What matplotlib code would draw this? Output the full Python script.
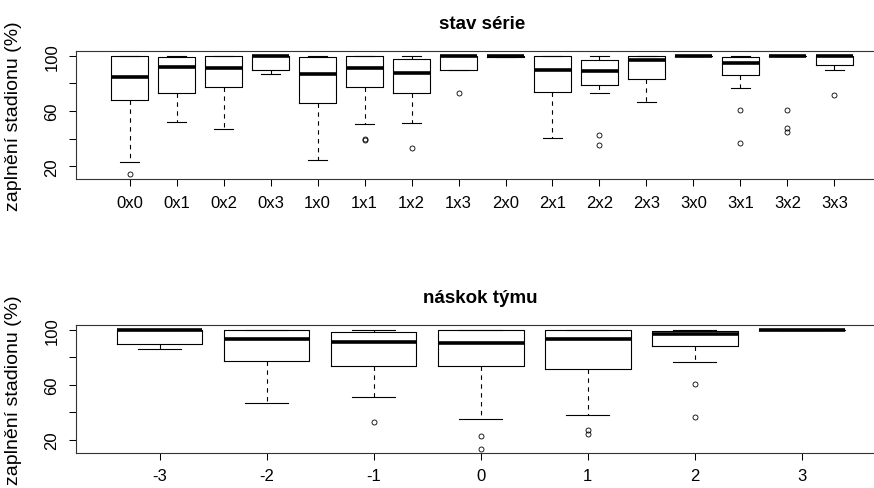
import matplotlib.pyplot as plt

plt.rcParams['font.family'] = ['Liberation Sans', 'DejaVu Sans']

# -------------------------------------------------------------------
# Data (stadium occupancy, %)
# -------------------------------------------------------------------
series_labels = ["0x0", "0x1", "0x2", "0x3", "1x0", "1x1", "1x2", "1x3",
                 "2x0", "2x1", "2x2", "2x3", "3x0", "3x1", "3x2", "3x3"]
series_whislo = [23.2, 51.9, 47.0, 86.5, 24.9, 50.4, 51.2, 89.9,
                 99.0, 40.5, 72.8, 66.8, 99.5, 76.4, 100.0, 89.9]
series_q1 = [68.0, 73.3, 77.4, 89.7, 65.6, 77.4, 73.3, 89.9,
             99.2, 74.0, 78.6, 82.9, 99.5, 86.3, 100.0, 93.0]
series_med = [84.6, 91.8, 91.1, 100.0, 87.0, 91.1, 87.7, 100.0,
              100.0, 89.9, 89.0, 96.6, 99.5, 94.7, 100.0, 100.0]
series_q3 = [100.0, 98.8, 100.0, 100.0, 98.8, 100.0, 97.6, 100.0,
             100.0, 100.0, 97.1, 100.0, 99.5, 99.3, 100.0, 100.0]
series_whishi = [100.0, 100.0, 100.0, 100.0, 100.0, 100.0, 100.0, 100.0,
                 100.0, 100.0, 100.0, 100.0, 99.5, 100.0, 100.0, 100.0]
series_fliers = [[14.3], [], [], [], [], [39.8, 38.8], [33.3], [73.3],
                 [], [], [42.7, 35.7], [], [], [61.0, 36.9],
                 [61.0, 47.5, 44.6], [71.4]]

lead_labels = ["-3", "-2", "-1", "0", "1", "2", "3"]
lead_whislo = [86.2, 46.8, 51.0, 35.5, 38.4, 76.4, 99.5]
lead_q1 = [89.4, 77.3, 73.4, 73.4, 71.3, 88.0, 99.5]
lead_med = [100.0, 93.3, 91.3, 90.1, 93.5, 97.1, 99.5]
lead_q3 = [100.0, 100.0, 98.6, 100.0, 100.0, 99.3, 99.5]
lead_whishi = [100.0, 100.0, 100.0, 100.0, 100.0, 100.0, 99.5]
lead_fliers = [[], [], [33.3], [22.9, 13.7], [27.0, 24.6], [60.6, 36.7], []]

y_ticks = [20, 40, 60, 80, 100]
y_tick_labels = ["20", "", "60", "", "100"]


def make_stats(labels, lo, q1, med, q3, hi, fliers):
    return [dict(label=l, whislo=a, q1=b, med=c, q3=d, whishi=e, fliers=f)
            for l, a, b, c, d, e, f in zip(labels, lo, q1, med, q3, hi, fliers)]


def draw_panel(axis, stats, title):
    n = len(stats)
    positions = list(range(1, n + 1))
    axis.bxp(stats, positions=positions, widths=0.8, capwidths=0.4,
             boxprops=dict(color="black", linewidth=0.8),
             whiskerprops=dict(color="black", linewidth=0.8, linestyle=(0, (4, 4))),
             capprops=dict(color="black", linewidth=0.8),
             medianprops=dict(color="black", linewidth=2.6, solid_capstyle="butt"),
             flierprops=dict(marker="o", markersize=3.6, markerfacecolor="none",
                             markeredgecolor="black", markeredgewidth=0.6))
    pad = 0.04 * n
    axis.set_xlim(0.5 - pad, n + 0.5 + pad)
    axis.set_ylim(10.6, 103.6)
    axis.set_xticks(positions)
    axis.set_xticklabels([s["label"] for s in stats], fontsize=12)
    axis.set_yticks(y_ticks)
    axis.set_yticklabels(y_tick_labels, rotation=90, va="center", fontsize=12)
    axis.tick_params(direction="out", length=5, width=0.75, colors="black")
    axis.tick_params(axis="x", pad=6)
    axis.tick_params(axis="y", pad=7)
    for spine in axis.spines.values():
        spine.set_linewidth(0.8)
        spine.set_color("#333333")
    axis.set_title(title, fontsize=13.5, fontweight="bold", pad=16)
    axis.set_ylabel("zaplnění stadionu (%)", fontsize=14)
    axis.yaxis.set_label_coords(-0.067, 0.5)


figure = plt.figure(figsize=(8.74, 4.89), dpi=100)
top_axis = figure.add_axes([0.087, 0.6313, 0.929, 0.263])
bottom_axis = figure.add_axes([0.087, 0.0716, 0.926, 0.2624])

draw_panel(top_axis, make_stats(series_labels, series_whislo, series_q1, series_med,
                                series_q3, series_whishi, series_fliers), "stav série")
draw_panel(bottom_axis, make_stats(lead_labels, lead_whislo, lead_q1, lead_med,
                                   lead_q3, lead_whishi, lead_fliers), "náskok týmu")

figure.savefig("out.png", dpi=100)
